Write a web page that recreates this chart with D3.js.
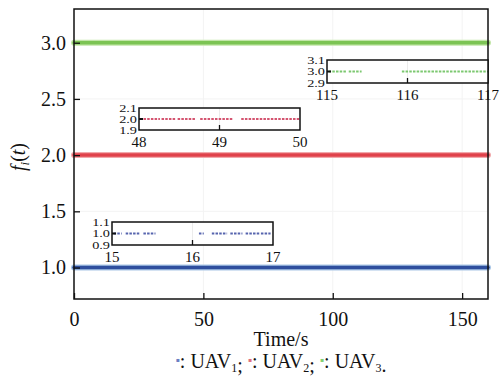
<!DOCTYPE html>
<html>
<head>
<meta charset="utf-8">
<script src="https://cdn.jsdelivr.net/npm/d3@7"></script>
<style>
    body { margin: 0; background: #fff; }
    svg text { font-family: "Liberation Serif", Tinos, serif; fill: #111; }
</style>
</head>
<body>
<div id="chart-area"></div>
<script>
const margin = { top: 9, right: 12, bottom: 79, left: 74 };
const width = 500 - margin.left - margin.right;
const height = 378 - margin.top - margin.bottom;

// main series: constant value held over the whole run
const timeSpan = [0, 160];
const uavNames = ["UAV1", "UAV2", "UAV3"];
const uavValues = [1.0, 2.0, 3.0];
const uavColors = ["#2f4f9e", "#e0424b", "#7cc454"];
const uavHalo = ["#a9c6e6", "#f1a9ac", "#c2e6a8"];
const legendColors = ["#6a7ec2", "#e0707e", "#82d072"];

const xTicks = [0, 50, 100, 150];
const yTicks = [1.0, 1.5, 2.0, 2.5, 3.0];

// zoomed insets: sample stretches (seconds) where points are recorded
const inset1Segments = [[15.02, 15.12], [15.17, 15.35], [15.39, 15.54], [16.08, 16.14],
    [16.24, 16.43], [16.47, 16.62], [16.66, 16.83], [16.85, 16.97]];
const inset2Segments = [[48.01, 48.26], [48.28, 48.46], [48.48, 48.71], [48.76, 49.17], [49.27, 50.0]];
const inset3Segments = [[115.02, 115.25], [115.27, 115.43], [115.93, 117.0]];

const insets = [
    { x: 112, y: 222, w: 161, h: 23, xDom: [15, 17], yDom: [0.9, 1.1], xt: [15, 16, 17], yt: ["1.1", "1.0", "0.9"], seg: inset1Segments, color: "#5664ae" },
    { x: 139, y: 108, w: 161, h: 22, xDom: [48, 50], yDom: [1.9, 2.1], xt: [48, 49, 50], yt: ["2.1", "2.0", "1.9"], seg: inset2Segments, color: "#d45470" },
    { x: 327, y: 60, w: 161, h: 23, xDom: [115, 117], yDom: [2.9, 3.1], xt: [115, 116, 117], yt: ["3.1", "3.0", "2.9"], seg: inset3Segments, color: "#7cc870" },
];

const svg = d3
    .select("#chart-area")
    .append("svg")
    .attr("width", 500)
    .attr("height", 378);

const g = svg
    .append("g")
    .attr("transform", `translate(${margin.left}, ${margin.top})`);

//Scales
const xScale = d3.scaleLinear().domain(timeSpan).range([0, width]);
const yScale = d3.scaleLinear().domain([0.72, 3.3]).range([height, 0]);

// faint grid
g.append("g")
    .selectAll("line")
    .data(xTicks.slice(1))
    .join("line")
    .attr("x1", (d) => xScale(d))
    .attr("x2", (d) => xScale(d))
    .attr("y1", 0)
    .attr("y2", height)
    .attr("stroke", "#f3f3f3");
g.append("g")
    .selectAll("line")
    .data(yTicks)
    .join("line")
    .attr("x1", 0)
    .attr("x2", width)
    .attr("y1", (d) => yScale(d))
    .attr("y2", (d) => yScale(d))
    .attr("stroke", "#f3f3f3");

//Lines
const line = d3
    .line()
    .x((d) => xScale(d[0]))
    .y((d) => yScale(d[1]));

uavValues.forEach((v, i) => {
    const pts = timeSpan.map((t) => [t, v]);
    g.append("path")
        .attr("d", line(pts))
        .attr("stroke", uavHalo[i])
        .attr("stroke-width", 6)
        .attr("stroke-linecap", "round")
        .attr("fill", "none");
    g.append("path")
        .attr("d", line(pts))
        .attr("stroke", uavColors[i])
        .attr("stroke-width", 3.5)
        .attr("stroke-linecap", "round")
        .attr("fill", "none");
});

//Axes
const xAxisCall = d3.axisBottom(xScale).tickValues(xTicks).tickSize(-6).tickPadding(10).tickFormat(d3.format("d"));
const yAxisCall = d3.axisLeft(yScale).tickValues(yTicks).tickSize(-6).tickPadding(8).tickFormat(d3.format(".1f"));

const xAxis = g.append("g").attr("transform", `translate(0, ${height})`).call(xAxisCall);
const yAxis = g.append("g").call(yAxisCall);
[xAxis, yAxis].forEach((a) => {
    a.attr("font-family", null);
    a.select(".domain").remove();
    a.selectAll("line").attr("stroke", "#111").attr("stroke-width", 1.3);
    a.selectAll("text").attr("font-size", "20px").attr("fill", "#111");
});
xAxis.selectAll("text").attr("dy", "0.85em");

// frame
g.append("rect")
    .attr("width", width)
    .attr("height", height)
    .attr("fill", "none")
    .attr("stroke", "#111")
    .attr("stroke-width", 1.5);

//Insets
insets.forEach((ins) => {
    const ig = svg.append("g").attr("transform", `translate(${ins.x}, ${ins.y})`);
    const ix = d3.scaleLinear().domain(ins.xDom).range([0, ins.w]);
    const iy = d3.scaleLinear().domain(ins.yDom).range([ins.h, 0]);

    ig.append("rect").attr("width", ins.w).attr("height", ins.h).attr("fill", "#fff");
    ig.append("line")
        .attr("x1", ix(ins.xt[1])).attr("x2", ix(ins.xt[1]))
        .attr("y1", 0).attr("y2", ins.h)
        .attr("stroke", "#ececec");

    ins.seg.forEach((s) => {
        ig.append("line")
            .attr("x1", ix(s[0]))
            .attr("x2", ix(s[1]))
            .attr("y1", iy(+ins.yt[1]))
            .attr("y2", iy(+ins.yt[1]))
            .attr("stroke", ins.color)
            .attr("stroke-width", 2.2)
            .attr("stroke-dasharray", "2.5,1.2");
    });

    ig.append("rect")
        .attr("width", ins.w)
        .attr("height", ins.h)
        .attr("fill", "none")
        .attr("stroke", "#111")
        .attr("stroke-width", 1.5);

    // inward ticks
    ig.append("line")
        .attr("x1", ix(ins.xt[1])).attr("x2", ix(ins.xt[1]))
        .attr("y1", ins.h).attr("y2", ins.h - 5)
        .attr("stroke", "#111").attr("stroke-width", 1.3);
    ig.append("line")
        .attr("x1", 0).attr("x2", 4)
        .attr("y1", iy(+ins.yt[1])).attr("y2", iy(+ins.yt[1]))
        .attr("stroke", "#111").attr("stroke-width", 2);

    ig.selectAll(".xl")
        .data(ins.xt)
        .join("text")
        .attr("x", (d) => ix(d))
        .attr("y", ins.h + 17)
        .attr("text-anchor", "middle")
        .attr("font-size", "15px")
        .text((d) => d);
    // labels squeezed vertically as in the source figure
    ig.selectAll(".yl")
        .data(ins.yt)
        .join("text")
        .attr("transform", (d) => `translate(-2, ${iy(+d)}) scale(1.1, 0.8)`)
        .attr("dy", "0.35em")
        .attr("text-anchor", "end")
        .attr("font-size", "13px")
        .text((d) => d);
});

//Labels
svg.append("text")
    .attr("x", margin.left + width / 2)
    .attr("y", 346)
    .attr("text-anchor", "middle")
    .attr("font-size", "20px")
    .text("Time/s");

const yLabel = svg.append("text")
    .attr("transform", "translate(25, 157) rotate(-90)")
    .attr("text-anchor", "middle")
    .attr("font-size", "20px");
yLabel.append("tspan").attr("font-style", "italic").text("f");
yLabel.append("tspan").attr("font-style", "italic").attr("font-size", "13px").attr("dy", 4).text("i");
yLabel.append("tspan").attr("dy", -4).text("(");
yLabel.append("tspan").attr("font-style", "italic").text("t");
yLabel.append("tspan").text(")");

// Legend
const legend = svg.append("text")
    .attr("x", margin.left + width / 2)
    .attr("y", 368)
    .attr("text-anchor", "middle")
    .attr("font-size", "20px");
uavNames.forEach((name, i) => {
    legend.append("tspan").attr("fill", legendColors[i]).attr("font-size", "12px").attr("dy", i === 0 ? -4 : -8).text("\u25AA");
    legend.append("tspan").attr("dy", 4).text(": " + name.slice(0, 3));
    legend.append("tspan").attr("font-size", "12px").attr("dy", 4).text(name.slice(3));
    legend.append("tspan").text(i < uavNames.length - 1 ? "; " : ".");
});
</script>
</body>
</html>
